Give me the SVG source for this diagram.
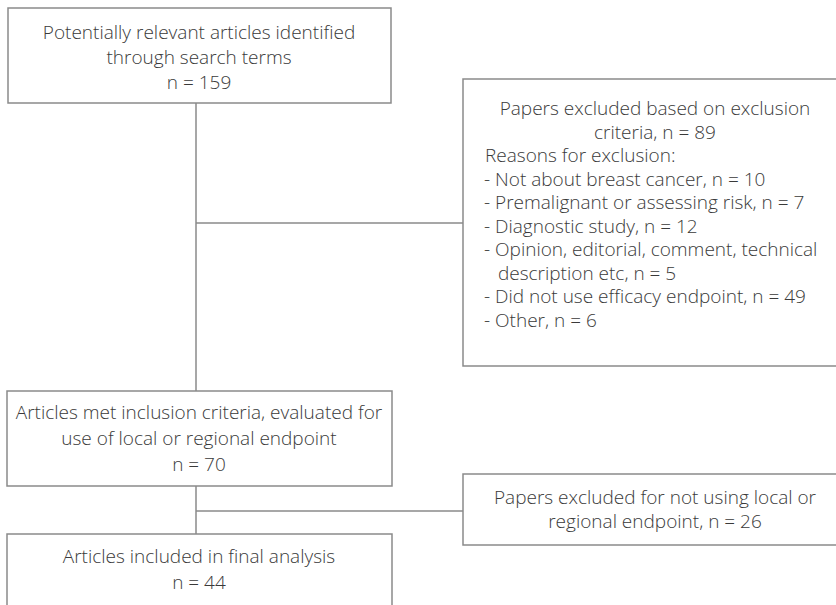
<svg xmlns="http://www.w3.org/2000/svg" width="836" height="605" viewBox="0 0 836 605">
<style>
.box{fill:#ffffff;stroke:#8a8a8a;stroke-width:1.5}
.ln{stroke:#8a8a8a;stroke-width:1.5;fill:none}
text{font-family:"Open Sans","Noto Sans","Liberation Sans",sans-serif;font-weight:300;font-size:19px;fill:#3a3a3a}
.c{text-anchor:middle}
</style>
<rect width="836" height="605" fill="#ffffff"/>
<g id="connectors">
<line class="ln" x1="196" y1="103" x2="196" y2="391"/>
<line class="ln" x1="196" y1="223" x2="463" y2="223"/>
<line class="ln" x1="196" y1="486" x2="196" y2="534"/>
<line class="ln" x1="196" y1="511" x2="463" y2="511"/>
</g>
<g id="identified">
<rect class="box" x="8" y="8" width="383" height="95"/>
<text class="c" x="199" y="39">Potentially relevant articles identified</text>
<text class="c" x="199" y="64">through search terms</text>
<text class="c" x="199" y="89">n = 159</text>
</g>
<g id="excluded1">
<rect class="box" x="463" y="79" width="390" height="287"/>
<text class="c" x="655" y="115">Papers excluded based on exclusion</text>
<text class="c" x="655" y="138.5">criteria, n = 89</text>
<text x="485" y="162">Reasons for exclusion:</text>
<text x="484" y="185.5">- Not about breast cancer, n = 10</text>
<text x="484" y="209">- Premalignant or assessing risk, n = 7</text>
<text x="484" y="232.5">- Diagnostic study, n = 12</text>
<text x="484" y="256">- Opinion, editorial, comment, technical</text>
<text x="498" y="279.5">description etc, n = 5</text>
<text x="484" y="303">- Did not use efficacy endpoint, n = 49</text>
<text x="484" y="326.5">- Other, n = 6</text>
</g>
<g id="inclusion">
<rect class="box" x="7" y="391" width="385" height="95"/>
<text class="c" x="199" y="419">Articles met inclusion criteria, evaluated for</text>
<text class="c" x="199" y="445">use of local or regional endpoint</text>
<text class="c" x="199" y="471">n = 70</text>
</g>
<g id="excluded2">
<rect class="box" x="463" y="474" width="390" height="71"/>
<text class="c" x="655" y="504">Papers excluded for not using local or</text>
<text class="c" x="655" y="528">regional endpoint, n = 26</text>
</g>
<g id="final">
<rect class="box" x="7" y="534" width="385" height="90"/>
<text class="c" x="199" y="563">Articles included in final analysis</text>
<text class="c" x="199" y="589">n = 44</text>
</g>
</svg>
